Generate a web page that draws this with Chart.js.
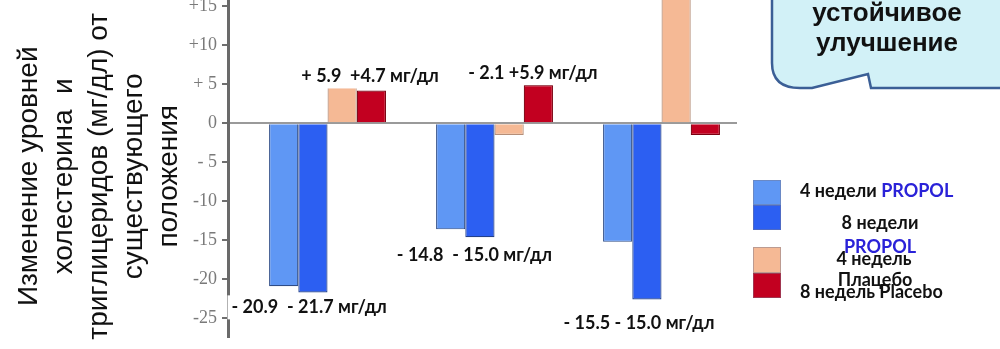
<!DOCTYPE html>
<html><head><meta charset="utf-8">
<script src="https://cdn.jsdelivr.net/npm/chart.js@4.4.1/dist/chart.umd.min.js"></script>
<style>html,body{margin:0;padding:0;background:#fff;overflow:hidden}#wrap{width:1000px;height:349px;position:relative}</style>
</head><body><div id="wrap"><canvas id="c"></canvas></div>
<script>
const categories = ['1', '2', '3'];
const seriesNames = ['4 недели PROPOL', '8 недели PROPOL', '4 недель Плацебо', '8 недель Placebo'];
const propol4 = [-20.9, -13.6, -15.2];
const propol8 = [-21.7, -14.6, -22.6];
const placebo4 = [4.7, -1.5, 20];
const placebo8 = [4.2, 4.9, -1.5];
const yTickValues = [15, 10, 5, 0, -5, -10, -15, -20, -25];
const yTickLabels = ['+15', '+10', '+ 5', '0', '- 5', '-10', '-15', '-20', '-25'];
const valueLabels = ['+ 5.9  +4.7 мг/дл', '- 2.1 +5.9 мг/дл', '- 20.9  - 21.7 мг/дл', '- 14.8  - 15.0 мг/дл', '- 15.5 - 15.0 мг/дл'];
const axisTitle = ['Изменение уровней', 'холестерина  и', 'триглицеридов (мг/дл) от', 'существующего', 'положения'];
const calloutLines = ['устойчивое', 'улучшение'];

const colors = ['#5f97f4', '#2c5ff2', '#f5b995', '#c20020'];
const borders = ['#2e4c86', '#23408a', '#b58e78', '#7a0010'];
const series = [propol4, propol8, placebo4, placebo8];

const toXY = arr => arr.map((v, i) => ({x: i + 1, y: v, cat: categories[i]}));

const labelPos = [[1.255, 6.0], [2.23, 6.4], [0.89, -23.6], [1.88, -16.9], [2.865, -25.6]];

const overlay = {
  id: 'overlay',
  afterDatasetsDraw(chart) {
    const ctx = chart.ctx;
    const xs = chart.scales.x, ys = chart.scales.y;
    ctx.save();
    ctx.font = 'bold 18px Lato';
    ctx.textAlign = 'center';
    ctx.textBaseline = 'middle';
    valueLabels.forEach((t, i) => {
      const px = xs.getPixelForValue(labelPos[i][0]);
      const py = ys.getPixelForValue(labelPos[i][1]);
      const w = ctx.measureText(t).width;
      ctx.fillStyle = '#ffffff';
      ctx.fillRect(px - w / 2 - 4, py - 12, w + 8, 24);
      ctx.fillStyle = '#111';
      ctx.fillText(t, px, py);
    });
    // callout
    ctx.beginPath();
    ctx.moveTo(772, -20);
    ctx.lineTo(772, 63);
    ctx.quadraticCurveTo(772, 88, 800, 88);
    ctx.lineTo(812, 88);
    ctx.lineTo(868, 74);
    ctx.lineTo(871, 88);
    ctx.lineTo(1010, 88);
    ctx.lineTo(1010, -20);
    ctx.closePath();
    ctx.fillStyle = '#d2f1f7';
    ctx.fill();
    ctx.lineWidth = 2.5;
    ctx.strokeStyle = '#3b5f96';
    ctx.stroke();
    ctx.fillStyle = '#111';
    ctx.font = 'bold 26px "Liberation Sans"';
    ctx.fillText(calloutLines[0], 887, 14);
    ctx.fillText(calloutLines[1], 887, 44);
    // legend
    const sw = [[180, 205], [205, 230], [247, 273], [273, 298]];
    chart.data.datasets.forEach((ds, i) => {
      ctx.fillStyle = ds.backgroundColor;
      ctx.fillRect(753, sw[i][0], 28, sw[i][1] - sw[i][0]);
      ctx.strokeStyle = 'rgba(120,120,140,0.45)';
      ctx.lineWidth = 1;
      ctx.strokeRect(753.5, sw[i][0] + 0.5, 27, sw[i][1] - sw[i][0] - 1);
    });
    ctx.font = 'bold 18px Lato';
    const blue = '#2a22d8';
    ctx.textAlign = 'left';
    const p1 = seriesNames[0].split(' ');
    const a1 = p1.slice(0, 2).join(' ') + ' ';
    ctx.fillStyle = '#111';
    ctx.fillText(a1, 800, 191);
    ctx.fillStyle = blue;
    ctx.fillText(p1[2], 800 + ctx.measureText(a1).width, 191);
    ctx.textAlign = 'center';
    const p2 = seriesNames[1].split(' ');
    ctx.fillStyle = '#111';
    ctx.fillText(p2.slice(0, 2).join(' '), 880, 223);
    ctx.fillStyle = blue;
    ctx.fillText(p2[2], 880, 247);
    const p3 = seriesNames[2].split(' ');
    ctx.fillStyle = '#111';
    ctx.fillText(p3.slice(0, 2).join(' '), 874, 259);
    ctx.fillText(p3[2], 875, 280);
    ctx.textAlign = 'left';
    ctx.fillText(seriesNames[3], 800, 292);
    ctx.restore();
  }
};

new Chart(document.getElementById('c'), {
  type: 'bar',
  data: {
    datasets: series.map((s, i) => ({
      label: seriesNames[i],
      data: toXY(s),
      backgroundColor: colors[i],
      borderColor: borders[i],
      borderWidth: 1.2,
      categoryPercentage: 0.70,
      barPercentage: 1.0
    }))
  },
  options: {
    responsive: true,
    maintainAspectRatio: false,
    animation: false,
    layout: {padding: {left: 0, right: 263, top: 0, bottom: 12}},
    plugins: {legend: {display: false}, tooltip: {enabled: false}},
    scales: {
      x: {
        type: 'linear', display: false, offset: false, min: 0.404, max: 3.452,
        afterBuildTicks: s => { s.ticks = categories.map((c, i) => ({value: i + 1})); }
      },
      y: {
        min: -27.4, max: 15.8,
        afterBuildTicks: s => { s.ticks = yTickValues.map(v => ({value: v})); },
        afterFit: s => { s.width = 228; s.paddingTop = 0; s.paddingBottom = 0; },
        ticks: {
          callback: v => { const k = yTickValues.indexOf(v); return k >= 0 ? yTickLabels[k] : ''; },
          color: '#7a7a7a',
          font: {family: '"Liberation Serif"', size: 18},
          padding: 5
        },
        grid: {
          drawOnChartArea: true,
          color: c => (c.tick && c.tick.value === 0) ? '#9a9a9a' : 'rgba(0,0,0,0)',
          lineWidth: 2,
          tickLength: 6,
          tickColor: '#6f6f6f',
          tickWidth: 2
        },
        border: {display: true, color: '#6a6a6a', width: 3},
        title: {
          display: true,
          text: axisTitle.map(t => t + '  '),
          color: '#111',
          font: {family: '"Liberation Sans"', size: 28, lineHeight: 35 / 28},
          padding: {top: 12, bottom: 0}
        }
      }
    }
  },
  plugins: [overlay]
});
</script>
</body></html>
